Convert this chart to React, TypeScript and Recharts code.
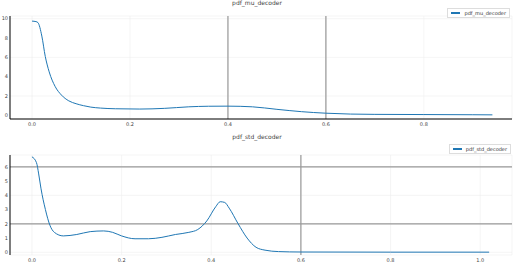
import React from "react";
import { LineChart, Line, XAxis, YAxis, CartesianGrid, ReferenceLine, Legend } from "recharts";

const muX = [0, 0.008, 0.012, 0.02, 0.027, 0.035, 0.047, 0.06, 0.075, 0.09, 0.105, 0.12, 0.14, 0.17, 0.22, 0.27, 0.32, 0.36, 0.4, 0.45, 0.5, 0.55, 0.6, 0.65, 0.7, 0.8, 0.9, 0.94];
const muY = [9.75, 9.7, 9.6, 8.2, 6.1, 4.5, 3.0, 2.1, 1.5, 1.2, 1.0, 0.85, 0.75, 0.68, 0.65, 0.72, 0.88, 0.94, 0.95, 0.88, 0.62, 0.38, 0.22, 0.13, 0.1, 0.08, 0.06, 0.05];
const muXTicks = [0, 0.2, 0.4, 0.6, 0.8];
const muYTicks = [0, 2, 4, 6, 8, 10];

const stdX = [0, 0.01, 0.015, 0.02, 0.03, 0.04, 0.05, 0.07, 0.1, 0.13, 0.16, 0.18, 0.2, 0.23, 0.26, 0.29, 0.32, 0.35, 0.37, 0.39, 0.41, 0.42, 0.43, 0.44, 0.46, 0.48, 0.5, 0.52, 0.55, 0.6, 0.8, 1.02];
const stdY = [6.7, 6.3, 5.5, 4.5, 3.0, 1.9, 1.4, 1.15, 1.25, 1.45, 1.5, 1.4, 1.15, 0.95, 0.95, 1.05, 1.25, 1.4, 1.6, 2.2, 3.2, 3.55, 3.5, 3.1, 2.0, 1.0, 0.35, 0.15, 0.05, 0.02, 0.01, 0.01];
const stdXTicks = [0, 0.2, 0.4, 0.6, 0.8, 1.0];
const stdYTicks = [0, 1, 2, 3, 4, 5, 6];

const muData = muX.map((x, i) => ({ x, y: muY[i] }));
const stdData = stdX.map((x, i) => ({ x, y: stdY[i] }));

const font = "DejaVu Sans";
const tick = { fontSize: 5, fill: "#444", fontFamily: font };
const blue = "#1f77b4";

function LegendBox({ label }: { label: string }) {
  return (
    <div style={{ display: "flex", alignItems: "center", border: "1px solid #ddd", background: "#fff", padding: "1px 3px", fontFamily: font, fontSize: 5, color: "#333" }}>
      <span style={{ display: "inline-block", width: 9, height: 1.5, background: blue, marginRight: 4 }} />
      {label}
    </div>
  );
}

function Title({ text, top }: { text: string; top: number }) {
  return (
    <div style={{ position: "absolute", top, left: 0, width: 514, textAlign: "center", fontFamily: font, fontSize: 6, color: "#444" }}>{text}</div>
  );
}

export default function App() {
  return (
    <div style={{ position: "absolute", top: 0, left: 0, width: 514, height: 264, background: "#fff" }}>
      <div style={{ position: "absolute", top: 0, left: 0 }}>
        <LineChart width={514} height={132} data={muData} margin={{ top: 6, right: 2, left: 0, bottom: 0 }}>
          <CartesianGrid stroke="#eee" strokeWidth={0.6} />
          <XAxis dataKey="x" type="number" domain={[-0.045, 0.98]} ticks={muXTicks} tickFormatter={(v: number) => v.toFixed(1)} tick={tick} height={13} tickSize={2} tickMargin={1} tickLine={false} axisLine={{ stroke: "#000", strokeWidth: 1 }} allowDataOverflow />
          <YAxis type="number" domain={[-0.38, 10.28]} ticks={muYTicks} tick={tick} width={10} tickSize={1} tickMargin={1} tickLine={false} axisLine={{ stroke: "#000", strokeWidth: 1 }} allowDataOverflow />
          <ReferenceLine x={0.4} stroke="#999" strokeWidth={1.2} />
          <ReferenceLine x={0.6} stroke="#999" strokeWidth={1.2} />
          <Legend verticalAlign="top" align="right" wrapperStyle={{ top: 8, right: 4, width: "auto" }} content={() => <LegendBox label="pdf_mu_decoder" />} />
          <Line dataKey="y" type="monotone" stroke={blue} strokeWidth={1} dot={false} isAnimationActive={false} />
        </LineChart>
      </div>
      <div style={{ position: "absolute", top: 132, left: 0 }}>
        <LineChart width={514} height={132} data={stdData} margin={{ top: 13, right: 2, left: 0, bottom: 0 }}>
          <CartesianGrid stroke="#eee" strokeWidth={0.6} />
          <XAxis dataKey="x" type="number" domain={[-0.049, 1.071]} ticks={stdXTicks} tickFormatter={(v: number) => v.toFixed(1)} tick={tick} height={9} tickSize={2} tickMargin={1} tickLine={false} axisLine={false} allowDataOverflow />
          <YAxis type="number" domain={[-0.19, 6.83]} ticks={stdYTicks} tick={tick} width={10} tickSize={1} tickMargin={1} tickLine={false} axisLine={{ stroke: "#000", strokeWidth: 1 }} allowDataOverflow />
          <ReferenceLine y={6} stroke="#999" strokeWidth={1.2} />
          <ReferenceLine y={2} stroke="#999" strokeWidth={1.2} />
          <ReferenceLine x={0.6} stroke="#999" strokeWidth={1.2} />
          <Legend verticalAlign="top" align="right" wrapperStyle={{ top: 12, right: 3, width: "auto" }} content={() => <LegendBox label="pdf_std_decoder" />} />
          <Line dataKey="y" type="monotone" stroke={blue} strokeWidth={1} dot={false} isAnimationActive={false} />
        </LineChart>
      </div>
      <Title text="pdf_mu_decoder" top={-1} />
      <Title text="pdf_std_decoder" top={133} />
    </div>
  );
}
